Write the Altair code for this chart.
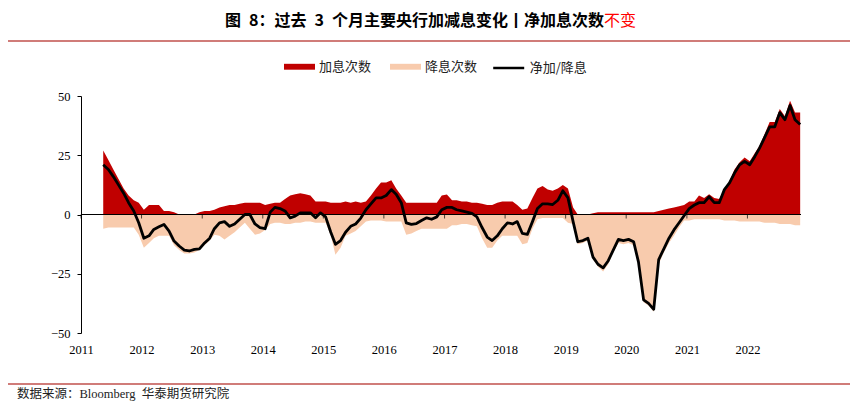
import altair as alt
import pandas as pd

# ---------------- data ----------------
months = [f"{y}-{m:02d}-15" for y in range(2011, 2023) for m in range(1, 13)
          if (2011, 5) <= (y, m) <= (2022, 11)]

hikes = [
    27, 23, 19, 15, 11, 8, 6, 5,                                  # 2011 May-Dec
    2, 4, 4, 4, 1.5, 1.5, 1, 0, 0, 0, 0, 1,                       # 2012
    1.5, 1.5, 2, 3, 3.5, 4, 4, 4.5, 5, 5, 5, 5,                   # 2013
    4, 4.5, 5, 5, 6.5, 8, 8.5, 9, 8.5, 8, 5.5, 5.5,               # 2014
    5.5, 5, 5, 5, 5.5, 5, 5.5, 5, 5.5, 8, 11, 13.5,               # 2015
    13.5, 14.5, 11, 8, 5, 5, 5, 5, 5, 5, 5, 8,                    # 2016
    8.4, 6, 6, 5.5, 5.5, 5, 5, 4.5, 4, 4, 5, 5.5,                 # 2017
    5.5, 5.5, 4, 2, 2.5, 7, 11, 12, 10.5, 10, 11, 12.5,           # 2018
    11, 3, 0, 0, 0, 0.5, 1, 1, 1, 1, 1, 1,                        # 2019
    1, 1, 1, 1, 1, 1, 1.5, 2, 2.5, 3, 3.5, 4,                     # 2020
    5.5, 5.5, 8, 7, 8.5, 7, 6.5, 10.5, 14, 19, 22, 24,            # 2021
    22.5, 26, 29, 34, 39, 39, 44.5, 41.5, 48, 43, 43,             # 2022 Jan-Nov
]

cuts = [
    -6, -5.5, -5.5, -5.5, -5.5, -5.5, -5.5, -8.5,
    -14, -12, -10, -9, -9, -9, -13, -15, -16.5, -16.5, -16, -15,
    -13, -11, -8.5, -9, -10.5, -9, -7.5, -5.5, -3.5, -6, -8.5, -8,
    -6.5, -4, -3.5, -3.5, -4, -4, -3.5, -3.5, -3, -3, -3.5, -3.5,
    -3.5, -9, -17, -14, -9, -8, -7, -5, -3, -2.5, -2.5, -2.5,
    -3, -3, -3, -3, -8.5, -8, -7, -6, -6, -6, -6, -6,
    -6, -4.5, -4.5, -4, -4, -4.5, -5, -10, -14, -14, -11, -9,
    -9, -9, -9, -12.5, -12, -6, -2, -1.5, -1.5, -1.5, -1.5, -1.5,
    -3.5, -4, -12.5, -12, -11, -19, -22, -24, -21, -16, -12, -12.5,
    -12, -13, -21, -37, -38.5, -41, -21, -16, -12, -9, -5.5, -2.5,
    -2.5, -2, -2, -2, -2, -2, -2, -2.5, -2.5, -2.5, -3, -3,
    -3, -3, -3, -3.5, -3.5, -3.5, -4, -4, -4, -4.5, -4.5,
]

net = [
    21, 19, 16, 12.5, 9, 5, 1.5, -3.5,
    -10, -9, -6.3, -5.2, -4.2, -7, -11.2, -13.3, -15, -15.4, -14.7, -14.5,
    -12, -10, -6, -3.5, -3, -5, -4, -2, 0, 0, -4, -5.5,
    -6, 1, 3, 2.5, 1.5, -1.4, -0.7, 0.7, 0.7, 0.7, -1.4, 0.7,
    -1, -7.5, -12.6, -11, -7.5, -5, -4, -1.5, 2, 4.5, 7, 7,
    8, 10.5, 8.5, 5, -3.5, -4.2, -3.8, -2.5, -1.4, -2, -1, 2,
    3, 3, 2, 1.5, 1, 0.5, -1, -5.5, -9.5, -11, -9, -6,
    -3.5, -4, -3, -8, -8.4, -3, 2.5, 4.5, 4.5, 4.2, 6, 10,
    7, -3, -11.5, -11, -10, -18, -21, -22.5, -19.5, -15, -10.5, -11,
    -10.5, -11.5, -20, -36, -37.5, -40, -19, -14.5, -10, -6.5, -3.5, -0.5,
    2.5, 4, 5, 5, 7.5, 5, 5, 10.5, 13.3, 17.5, 21, 22.4,
    21, 24.5, 28, 32.5, 37, 37, 43, 40, 46, 40, 38,
]

years = list(range(2011, 2023))
y_ticks = [-50, -25, 0, 25, 50]
area_names = ["加息次数", "降息次数"]
area_colors = ["#c00000", "#f8cbad"]
line_name = "净加/降息"

title_main = "图\u20028：过去\u20023\u2002个月主要央行加减息变化丨净加息次数"
title_red = "不变"
source_text = "数据来源：Bloomberg\u2002华泰期货研究院"

# ---------------- tables ----------------
n = len(months)
area_df = pd.DataFrame({
    "date": months * 2,
    "value": hikes + cuts,
    "series": [area_names[0]] * n + [area_names[1]] * n,
})
line_df = pd.DataFrame({"date": months, "value": net, "series": [line_name] * n})
tick_df = pd.DataFrame({"date": [f"{y}-01-01" for y in years]})

serif = "Liberation Serif"
cjk = "Noto Sans CJK SC"

x_scale = alt.Scale(domain=[alt.DateTime(year=2011, month=1, date=1),
                            alt.DateTime(year=2022, month=11, date=20)])
x_axis = alt.Axis(values=[alt.DateTime(year=y, month=1, date=1) for y in years],
                  format="%Y", title=None, domain=False, ticks=False, tickSize=0,
                  grid=False, labelFont=serif, labelFontSize=12.5, labelColor="black",
                  labelPadding=10, labelFlush=False, labelOverlap=False)
y_scale = alt.Scale(domain=[-50, 50], nice=False)
y_axis = alt.Axis(values=y_ticks, title=None, grid=False, domainColor="black",
                  tickColor="black", tickSize=4, labelFont=serif, labelFontSize=12.5,
                  labelColor="black", labelPadding=7)

areas = alt.Chart(area_df).mark_area(opacity=1, interpolate="linear").encode(
    x=alt.X("date:T", scale=x_scale, axis=x_axis),
    y=alt.Y("value:Q", scale=y_scale, axis=y_axis, stack=None),
    fill=alt.Fill("series:N", scale=alt.Scale(domain=area_names, range=area_colors),
                  legend=alt.Legend(orient="none", legendX=203, legendY=-45,
                                    direction="horizontal", title=None,
                                    symbolType="M-1,-0.19L1,-0.19L1,0.19L-1,0.19Z",
                                    symbolSize=961, symbolStrokeWidth=0, symbolOpacity=1,
                                    labelFont=cjk, labelFontSize=13, labelColor="#222",
                                    labelOffset=4, columnPadding=18, padding=0)),
)

zero = alt.Chart(pd.DataFrame({"k": [0]})).mark_rule(color="black", strokeWidth=1).encode(
    y=alt.datum(0)
)

ticks = alt.Chart(tick_df).mark_tick(orient="vertical", size=4, thickness=1,
                                     color="black", yOffset=2).encode(
    x=alt.X("date:T"), y=alt.datum(0)
)

line = alt.Chart(line_df).mark_line(strokeWidth=2.8, strokeJoin="round").encode(
    x=alt.X("date:T"),
    y=alt.Y("value:Q"),
    stroke=alt.Stroke("series:N", scale=alt.Scale(domain=[line_name], range=["black"]),
                      legend=alt.Legend(orient="none", legendX=410.7, legendY=-45,
                                        direction="horizontal", title=None,
                                        symbolType="stroke", symbolSize=961,
                                        symbolStrokeWidth=2.5,
                                        labelFont=cjk, labelFontSize=13, labelColor="#222",
                                        labelOffset=4, padding=0)),
)


def deco():
    return alt.Chart(pd.DataFrame({"k": [0]}))


t1 = deco().mark_text(text=title_main, align="right", baseline="middle", font=cjk,
                      fontSize=16, fontWeight="bold", color="black").encode(
    x=alt.value(523), y=alt.value(-75))
t2 = deco().mark_text(text=title_red, align="left", baseline="middle", font=cjk,
                      fontSize=16, fontWeight="normal", color="#ff0000").encode(
    x=alt.value(523), y=alt.value(-75))
rule_top = deco().mark_rule(color="#c0504d", strokeWidth=1.6).encode(
    x=alt.value(-73), x2=alt.value(769), y=alt.value(-55))
rule_bot = deco().mark_rule(color="#c0504d", strokeWidth=1.6).encode(
    x=alt.value(-73), x2=alt.value(769), y=alt.value(288))
src = deco().mark_text(text=source_text, align="left", baseline="middle",
                       font=f"{serif}, {cjk}", fontSize=12.5, color="#222").encode(
    x=alt.value(-64), y=alt.value(298))

chart = alt.layer(areas, zero, ticks, line, t1, t2, rule_top, rule_bot, src).properties(
    width=720, height=237,
    autosize=alt.AutoSizeParams(type="none"),
    padding={"left": 73, "top": 88, "right": 49, "bottom": 70},
).configure(background="white").configure_view(strokeWidth=0)

chart.save("out.html", embed_options={"renderer": "svg", "actions": False})
